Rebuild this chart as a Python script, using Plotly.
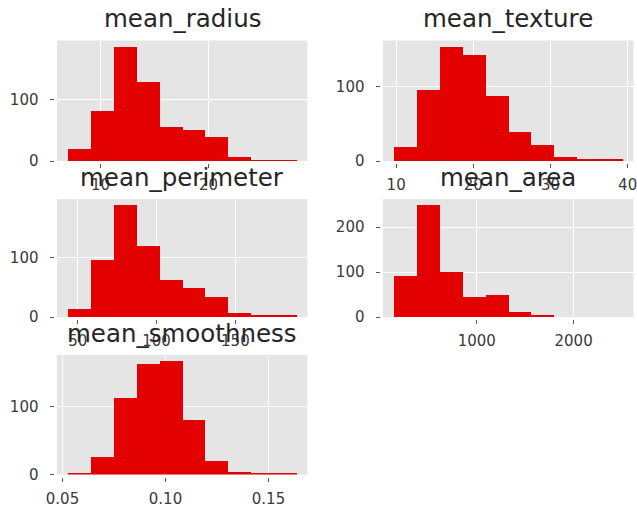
import numpy as np
import plotly.graph_objects as go

# ---- data ----
titles = ["mean_radius", "mean_texture", "mean_perimeter", "mean_area", "mean_smoothness"]

radius_range = [6.981, 28.11]
radius_counts = [20, 82, 188, 130, 56, 52, 40, 7, 3, 3]

texture_range = [9.71, 39.28]
texture_counts = [19, 96, 155, 144, 88, 40, 22, 6, 3, 3]

perimeter_range = [43.79, 188.5]
perimeter_counts = [13, 96, 189, 119, 63, 49, 33, 6, 3, 3]

area_range = [143.5, 2501.0]
area_counts = [92, 250, 100, 44, 48, 12, 4, 0, 0, 0]

smooth_range = [0.05263, 0.1634]
smooth_counts = [2, 26, 113, 163, 168, 81, 20, 4, 1, 1]

radius_ticks = [10, 20]
texture_ticks = [10, 20, 30, 40]
perimeter_ticks = [50, 100, 150]
area_ticks = [1000, 2000]
smooth_ticks = [0.05, 0.10, 0.15]
smooth_ticklabels = ["0.05", "0.10", "0.15"]

# ---- layout geometry (pixels) ----
W, H = 637, 512
cols = [(56.5, 307.5), (382.5, 633.5)]
rows = [(40.5, 161.0), (199.0, 317.0), (355.0, 474.5)]

panels = [
    (titles[0], radius_range, radius_counts, radius_ticks, None, 0, 0),
    (titles[1], texture_range, texture_counts, texture_ticks, None, 0, 1),
    (titles[2], perimeter_range, perimeter_counts, perimeter_ticks, None, 1, 0),
    (titles[3], area_range, area_counts, area_ticks, None, 1, 1),
    (titles[4], smooth_range, smooth_counts, smooth_ticks, smooth_ticklabels, 2, 0),
]

BAR = "#E30000"
BG = "#E5E5E5"
TICKC = "#555555"
LABELC = "#3a3a3a"
FONT = "DejaVu Sans"

fig = go.Figure()
layout = dict(
    width=W, height=H,
    margin=dict(l=0, r=0, t=0, b=0),
    paper_bgcolor="white",
    plot_bgcolor=BG,
    showlegend=False,
    bargap=0,
    font=dict(family=FONT, color=LABELC, size=15),
)
annotations = []

for i, (title, rng, counts, ticks, ticklabels, r, c) in enumerate(panels):
    n = i + 1
    xs = "" if n == 1 else str(n)
    edges = np.linspace(rng[0], rng[1], len(counts) + 1)
    centers = (edges[:-1] + edges[1:]) / 2
    width = edges[1] - edges[0]
    fig.add_trace(go.Bar(
        x=centers, y=counts, width=[width] * len(counts),
        marker=dict(color=BAR, line=dict(width=0)),
        xaxis="x" + xs, yaxis="y" + xs, hoverinfo="skip",
    ))
    x0, x1 = cols[c]
    top, bot = rows[r]
    span = rng[1] - rng[0]
    xr = [rng[0] - 0.05 * span, rng[1] + 0.05 * span]
    yr = [0, max(counts) * 1.05]
    common = dict(
        showgrid=True, gridcolor="white", gridwidth=1.3,
        zeroline=False, showline=True, linecolor="white", linewidth=3,
        ticks="outside", ticklen=4, tickcolor=TICKC, tickwidth=1,
        tickfont=dict(size=15, color=LABELC, family=FONT),
        automargin=False, ticklabeloverflow="allow",
    )
    xa = dict(domain=[x0 / W, x1 / W], range=xr, anchor="y" + xs,
              tickvals=ticks, ticklabelstandoff=4, **common)
    if ticklabels is not None:
        xa["ticktext"] = ticklabels
    ya = dict(domain=[1 - bot / H, 1 - top / H], range=yr, anchor="x" + xs,
              dtick=100, tick0=0, ticklabelstandoff=8, **common)
    layout["xaxis" + xs] = xa
    layout["yaxis" + xs] = ya
    annotations.append(dict(
        text=title, xref="paper", yref="paper",
        x=(x0 + x1) / 2 / W, y=1 - top / H, xanchor="center", yanchor="bottom",
        yshift=5, showarrow=False, font=dict(size=24.5, color="#262626", family=FONT),
    ))

layout["annotations"] = annotations
fig.update_layout(**layout)
fig.write_html("out.html")
